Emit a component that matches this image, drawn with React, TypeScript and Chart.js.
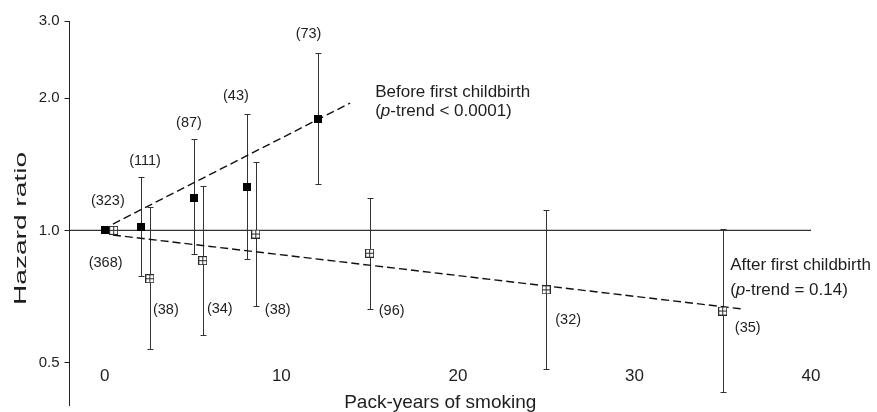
import React, { useEffect, useRef } from 'react';
import { Chart, registerables } from 'chart.js';

Chart.register(...registerables);

// ---- data ----
const xTicks = [0, 10, 20, 30, 40];
const yTicks = [0.5, 1.0, 2.0, 3.0];

const beforeX = [0, 2.05, 5.05, 8.05, 12.05];
const beforeHR = [1.0, 1.02, 1.187, 1.258, 1.794];
const beforeLow: (number | null)[] = [null, 0.787, 0.884, 0.859, 1.278];
const beforeHigh: (number | null)[] = [null, 1.323, 1.613, 1.838, 2.537];
const beforeN = ['(323)', '(111)', '(87)', '(43)', '(73)'];

const afterX = [0.5, 2.55, 5.55, 8.55, 15, 25, 35];
const afterHR = [1.0, 0.776, 0.853, 0.981, 0.887, 0.732, 0.655];
const afterLow: (number | null)[] = [null, 0.536, 0.578, 0.673, 0.661, 0.483, 0.428];
const afterHigh: (number | null)[] = [null, 1.129, 1.264, 1.434, 1.187, 1.113, 1.007];
const afterN = ['(368)', '(38)', '(34)', '(38)', '(96)', '(32)', '(35)'];

const beforeTrendX = [0.46, 13.9];
const beforeTrendY = [1.034, 1.951];
const afterTrendX = [0.46, 36.1];
const afterTrendY = [0.976, 0.662];

const refX = [-2, 40];
const refY = [1.0, 1.0];

// ---- styles (label offsets in pixels relative to each marker) ----
const beforeLabelOffsets = [[3, -29], [4, -66], [-5, -75], [-11, -91], [-9, -85]];
const afterLabelOffsets = [[-8, 33], [16, 31], [17, 48], [22, 76], [22, 58], [22, 30], [25, 17]];

const FONT = '"Liberation Sans", Arial, Helvetica, sans-serif';
const INK = '#1e1e1e';

function pts(xs: number[], ys: number[]) {
  return xs.map((x, i) => ({ x, y: ys[i] }));
}

function makeFilled() {
  const c = document.createElement('canvas');
  c.width = 8; c.height = 8;
  const g = c.getContext('2d')!;
  g.fillStyle = '#000';
  g.fillRect(0, 0, 8, 8);
  return c;
}

function makeOpen() {
  const c = document.createElement('canvas');
  c.width = 9; c.height = 9;
  const g = c.getContext('2d')!;
  g.fillStyle = '#fff';
  g.fillRect(0, 0, 9, 9);
  g.strokeStyle = '#2a2a2a';
  g.lineWidth = 1;
  g.strokeRect(0.5, 0.5, 8, 8);
  g.beginPath();
  g.moveTo(4.5, 0.5); g.lineTo(4.5, 8.5);
  g.moveTo(0.5, 4.5); g.lineTo(8.5, 4.5);
  g.stroke();
  return c;
}

function drawRich(ctx: CanvasRenderingContext2D, parts: [string, boolean][], x: number, y: number, size: number) {
  let cx = x;
  for (const [t, it] of parts) {
    ctx.font = `${it ? 'italic ' : ''}${size}px ${FONT}`;
    ctx.fillText(t, cx, y);
    cx += ctx.measureText(t).width;
  }
}

const overlay = {
  id: 'overlay',
  beforeDatasetsDraw(chart: any) {
    const { ctx, scales } = chart;
    const x = scales.x, y = scales.y;
    ctx.save();
    ctx.strokeStyle = '#333';
    ctx.lineWidth = 1;
    const bars = (xs: number[], lo: (number | null)[], hi: (number | null)[]) => {
      xs.forEach((xv, i) => {
        const l = lo[i], h = hi[i];
        if (l == null || h == null) return;
        const px = Math.round(x.getPixelForValue(xv)) + 0.5;
        const t = Math.round(y.getPixelForValue(h)) + 0.5;
        const b = Math.round(y.getPixelForValue(l)) + 0.5;
        ctx.beginPath();
        ctx.moveTo(px, t); ctx.lineTo(px, b);
        ctx.moveTo(px - 3, t); ctx.lineTo(px + 3, t);
        ctx.moveTo(px - 3, b); ctx.lineTo(px + 3, b);
        ctx.stroke();
      });
    };
    bars(beforeX, beforeLow, beforeHigh);
    bars(afterX, afterLow, afterHigh);
    ctx.restore();
  },
  afterDraw(chart: any) {
    const { ctx, scales, chartArea } = chart;
    const x = scales.x, y = scales.y;
    ctx.save();
    ctx.fillStyle = INK;

    // count labels
    ctx.font = `14.5px ${FONT}`;
    ctx.textAlign = 'center';
    ctx.textBaseline = 'middle';
    beforeN.forEach((t, i) => {
      const [dx, dy] = beforeLabelOffsets[i];
      ctx.fillText(t, x.getPixelForValue(beforeX[i]) + dx, y.getPixelForValue(beforeHR[i]) + dy);
    });
    afterN.forEach((t, i) => {
      const [dx, dy] = afterLabelOffsets[i];
      ctx.fillText(t, x.getPixelForValue(afterX[i]) + dx, y.getPixelForValue(afterHR[i]) + dy);
    });

    // x tick labels (drawn inside the plot, above the title)
    ctx.font = `17px ${FONT}`;
    ctx.textBaseline = 'alphabetic';
    xTicks.forEach((v) => {
      ctx.fillText(String(v), x.getPixelForValue(v), chartArea.bottom - 24.5);
    });

    // x title
    ctx.font = `19px ${FONT}`;
    ctx.fillText('Pack-years of smoking', (chartArea.left + chartArea.right) / 2, chartArea.bottom + 3);

    // y title (stretched along its length as in the reference)
    ctx.save();
    ctx.translate(26, (chartArea.top + chartArea.bottom) / 2 + 15.5);
    ctx.rotate(-Math.PI / 2);
    ctx.font = `16.5px ${FONT}`;
    const w = ctx.measureText('Hazard ratio').width;
    ctx.scale(153 / w, 1);
    ctx.textBaseline = 'alphabetic';
    ctx.fillText('Hazard ratio', 0, 0);
    ctx.restore();

    // trend annotations
    ctx.textAlign = 'left';
    ctx.textBaseline = 'alphabetic';
    const bEnd = { px: x.getPixelForValue(beforeTrendX[1]), py: y.getPixelForValue(beforeTrendY[1]) };
    drawRich(ctx, [['Before first childbirth', false]], bEnd.px + 25, bEnd.py - 6, 17);
    drawRich(ctx, [['(', false], ['p', true], ['-trend < 0.0001)', false]], bEnd.px + 25, bEnd.py + 13, 17);
    const aEnd = { px: x.getPixelForValue(afterTrendX[1]), py: y.getPixelForValue(afterTrendY[1]) };
    drawRich(ctx, [['After first childbirth', false]], aEnd.px - 12, aEnd.py - 38.5, 17);
    drawRich(ctx, [['(', false], ['p', true], ['-trend = 0.14)', false]], aEnd.px - 12, aEnd.py - 14, 17);

    ctx.restore();
  },
};

export default function App() {
  const ref = useRef<HTMLCanvasElement | null>(null);
  useEffect(() => {
    if (!ref.current) return;
    const filled = makeFilled();
    const open = makeOpen();
    const chart = new Chart(ref.current, {
      type: 'scatter',
      data: {
        datasets: [
          {
            data: pts(refX, refY), showLine: true, borderColor: '#333', borderWidth: 1.4,
            pointRadius: 0, order: 5,
          },
          {
            data: pts(beforeTrendX, beforeTrendY), showLine: true, borderColor: '#111', borderWidth: 1.4,
            borderDash: [8, 4], pointRadius: 0, order: 4,
          },
          {
            data: pts(afterTrendX, afterTrendY), showLine: true, borderColor: '#111', borderWidth: 1.4,
            borderDash: [8, 4], pointRadius: 0, order: 3,
          },
          {
            data: pts(afterX, afterHR), showLine: false, pointStyle: open as any, pointRadius: 4.5,
            order: 2,
          },
          {
            data: pts(beforeX, beforeHR), showLine: false, pointStyle: filled as any, pointRadius: 4,
            order: 1,
          },
        ],
      },
      options: {
        animation: false,
        responsive: false,
        layout: { padding: { top: 21, right: 66, bottom: 7, left: 0 } },
        plugins: { legend: { display: false }, tooltip: { enabled: false } },
        scales: {
          x: { type: 'linear', min: -2, max: 40, display: false },
          y: {
            type: 'logarithmic',
            min: 0.4,
            max: 3,
            afterBuildTicks: (s: any) => { s.ticks = yTicks.map((v) => ({ value: v })); },
            afterFit: (s: any) => { s.width = 69.5; s.paddingTop = 0; s.paddingBottom = 0; },
            ticks: {
              callback: (v: any) => Number(v).toFixed(1),
              font: { size: 15, family: FONT },
              color: INK,
              padding: 5,
              autoSkip: false,
            },
            grid: { drawOnChartArea: false, drawTicks: true, tickLength: 5, color: '#222' },
            border: { display: true, color: '#222', width: 1 },
          },
        },
      },
      plugins: [overlay],
    });
    return () => chart.destroy();
  }, []);
  return (
    <div style={{ position: 'absolute', left: 0, top: 0, width: 877, height: 412, background: '#fff' }}>
      <canvas ref={ref} width={877} height={412} style={{ display: 'block' }} />
    </div>
  );
}
